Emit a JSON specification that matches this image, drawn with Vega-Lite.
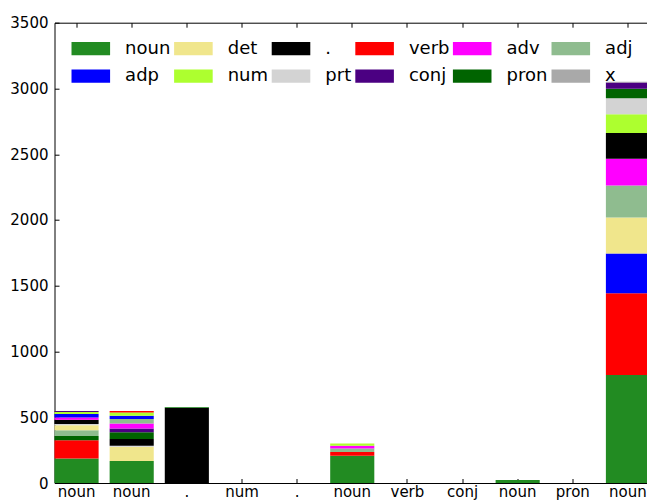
{
  "$schema": "https://vega.github.io/schema/vega-lite/v6.json",
  "autosize": "none",
  "width": 592.5,
  "height": 460.3,
  "padding": {"left": 54.5, "top": 22.7, "right": 0, "bottom": 20},
  "background": "white",
  "config": {
    "view": {"stroke": null},
    "font": "DejaVu Sans",
    "axis": {
      "domainColor": "black",
      "domainWidth": 1,
      "tickColor": "black",
      "tickWidth": 1,
      "tickSize": -4.5,
      "labelColor": "black",
      "labelFontSize": 15,
      "labelFont": "DejaVu Sans",
      "grid": false,
      "title": null,
      "zindex": 1
    }
  },
  "data": {
    "values": [
      {"i": 0, "pos": "noun", "v": 187, "o": 0},
      {"i": 0, "pos": "verb", "v": 139, "o": 1},
      {"i": 0, "pos": "pron", "v": 31, "o": 2},
      {"i": 0, "pos": "adj", "v": 45, "o": 3},
      {"i": 0, "pos": "det", "v": 38, "o": 4},
      {"i": 0, "pos": "prt", "v": 8, "o": 5},
      {"i": 0, "pos": ".", "v": 32, "o": 6},
      {"i": 0, "pos": "adv", "v": 18, "o": 7},
      {"i": 0, "pos": "adp", "v": 26, "o": 8},
      {"i": 0, "pos": "num", "v": 15, "o": 9},
      {"i": 0, "pos": "conj", "v": 8, "o": 10},
      {"i": 1, "pos": "noun", "v": 167, "o": 0},
      {"i": 1, "pos": "det", "v": 109, "o": 1},
      {"i": 1, "pos": "prt", "v": 7, "o": 2},
      {"i": 1, "pos": ".", "v": 51, "o": 3},
      {"i": 1, "pos": "pron", "v": 51, "o": 4},
      {"i": 1, "pos": "conj", "v": 30, "o": 5},
      {"i": 1, "pos": "adv", "v": 38, "o": 6},
      {"i": 1, "pos": "adj", "v": 33, "o": 7},
      {"i": 1, "pos": "adp", "v": 25, "o": 8},
      {"i": 1, "pos": "num", "v": 25, "o": 9},
      {"i": 1, "pos": "verb", "v": 11, "o": 10},
      {"i": 2, "pos": ".", "v": 572, "o": 0},
      {"i": 2, "pos": "noun", "v": 5, "o": 1},
      {"i": 5, "pos": "noun", "v": 207, "o": 0},
      {"i": 5, "pos": "verb", "v": 28, "o": 1},
      {"i": 5, "pos": "adj", "v": 28, "o": 2},
      {"i": 5, "pos": "adv", "v": 20, "o": 3},
      {"i": 5, "pos": "num", "v": 18, "o": 4},
      {"i": 8, "pos": "noun", "v": 22, "o": 0},
      {"i": 10, "pos": "noun", "v": 822, "o": 0},
      {"i": 10, "pos": "verb", "v": 620, "o": 1},
      {"i": 10, "pos": "adp", "v": 304, "o": 2},
      {"i": 10, "pos": "det", "v": 273, "o": 3},
      {"i": 10, "pos": "adj", "v": 243, "o": 4},
      {"i": 10, "pos": "adv", "v": 203, "o": 5},
      {"i": 10, "pos": ".", "v": 197, "o": 6},
      {"i": 10, "pos": "num", "v": 141, "o": 7},
      {"i": 10, "pos": "prt", "v": 122, "o": 8},
      {"i": 10, "pos": "pron", "v": 73, "o": 9},
      {"i": 10, "pos": "conj", "v": 48, "o": 10},
      {"i": 10, "pos": "x", "v": 5, "o": 11}
    ]
  },
  "layer": [
    {
      "mark": {"type": "bar", "strokeWidth": 0},
      "encoding": {
        "x": {
          "field": "i",
          "type": "ordinal",
          "scale": {"domain": [0, 1, 2, 3, 4, 5, 6, 7, 8, 9, 10], "range": [0, 595.5], "paddingInner": 0.2, "paddingOuter": 0},
          "axis": {
            "orient": "bottom",
            "labelAngle": 0,
            "labelPadding": 6,
            "labelExpr": "['noun','noun','.','num','.','noun','verb','conj','noun','pron','noun'][datum.value]"
          }
        },
        "y": {
          "field": "v",
          "type": "quantitative",
          "stack": "zero",
          "scale": {"domain": [0, 3500], "nice": false, "zero": true},
          "axis": {"orient": "left", "values": [0, 500, 1000, 1500, 2000, 2500, 3000, 3500], "format": "d", "labelPadding": 11}
        },
        "color": {
          "field": "pos",
          "type": "nominal",
          "scale": {
            "domain": ["noun", "det", ".", "verb", "adv", "adj", "adp", "num", "prt", "conj", "pron", "x"],
            "range": ["#228B22", "#F0E68C", "#000000", "#FF0000", "#FF00FF", "#8FBC8F", "#0000FF", "#ADFF2F", "#D3D3D3", "#4B0082", "#006400", "#A9A9A9"]
          },
          "legend": {
            "orient": "none",
            "legendX": 27.3,
            "legendY": 17,
            "columns": 6,
            "direction": "horizontal",
            "gridAlign": "each",
            "title": null,
            "padding": 0,
            "symbolType": "M-2.9,-1H2.9V1H-2.9Z",
            "symbolSize": 177,
            "symbolStrokeWidth": 0,
            "symbolOpacity": 1,
            "labelFontSize": 18,
            "labelFont": "DejaVu Sans",
            "labelColor": "black",
            "labelOffset": 25.3,
            "columnPadding": 2.6,
            "rowPadding": 9.4,
            "labelLimit": 0
          }
        },
        "order": {"field": "o", "type": "quantitative", "sort": "ascending"}
      }
    },
    {
      "mark": {"type": "bar", "opacity": 0},
      "encoding": {
        "x": {
          "field": "i",
          "type": "ordinal",
          "axis": {"orient": "top", "labels": false}
        },
        "y": {
          "field": "v",
          "type": "quantitative",
          "stack": "zero",
          "axis": {"orient": "left", "values": [0, 500, 1000, 1500, 2000, 2500, 3000, 3500], "format": "d", "labelPadding": 11}
        },
        "order": {"field": "o", "type": "quantitative", "sort": "ascending"}
      }
    }
  ],
  "resolve": {"axis": {"x": "independent"}}
}
